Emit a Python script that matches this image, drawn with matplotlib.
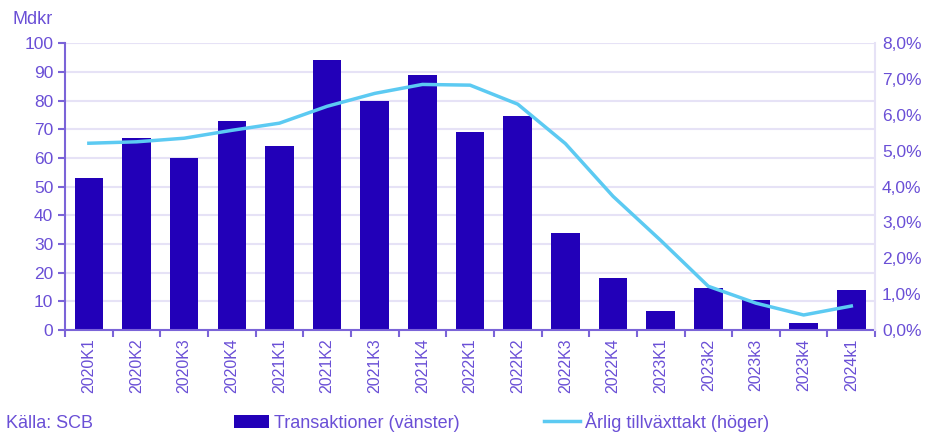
import matplotlib
matplotlib.use("Agg")
import matplotlib.pyplot as plt
from matplotlib.ticker import FuncFormatter, MultipleLocator
import numpy as np

categories = ["2020K1", "2020K2", "2020K3", "2020K4", "2021K1", "2021K2", "2021K3", "2021K4",
              "2022K1", "2022K2", "2022K3", "2022K4", "2023K1", "2023k2", "2023k3", "2023k4", "2024k1"]
transaktioner = [53, 67, 60, 73, 64, 94, 80, 89, 69, 74.5, 34, 18, 6.5, 14.5, 10.5, 2.5, 14]
tillvaxt = [5.21, 5.25, 5.35, 5.57, 5.77, 6.24, 6.6, 6.85, 6.83, 6.3, 5.2, 3.73, 2.5, 1.22, 0.75, 0.42, 0.67]

bar_color = "#2200B8"
line_color = "#5CCAF2"
text_color = "#6A4FD6"
grid_color = "#E6E2F6"
axis_color = "#7B64D8"

plt.rcParams['font.family'] = ['Liberation Sans', 'DejaVu Sans']

fig = plt.figure(figsize=(9.29, 4.32), dpi=100)
ax = fig.add_axes([0.070, 0.236, 0.872, 0.664])
x = np.arange(len(categories))
ax.bar(x, transaktioner, width=0.6, color=bar_color, zorder=2, label="Transaktioner (vänster)")
ax.set_xlim(-0.5, len(categories) - 0.5)
ax.set_ylim(0, 100)
ax.yaxis.set_major_locator(MultipleLocator(10))
ax.grid(axis='y', color=grid_color, linewidth=1.5, zorder=0)
ax.set_axisbelow(True)
ax.set_xticks(x)
ax.set_xticklabels(categories, rotation=90, fontsize=11.5, color=text_color)
ax.tick_params(axis='x', length=0, pad=6)
ax.set_xticks(np.arange(-0.5, len(categories) + 0.5, 1), minor=True)
ax.tick_params(axis='x', which='minor', length=5, width=1.5, color=axis_color)
ax.tick_params(axis='y', labelsize=12.5, labelcolor=text_color, length=5, width=1.5, color=axis_color)
for s in ['top', 'right']:
    ax.spines[s].set_visible(False)
ax.spines['left'].set_color(axis_color)
ax.spines['bottom'].set_color(axis_color)
ax.spines['left'].set_linewidth(1.5)
ax.spines['bottom'].set_linewidth(1.5)

ax2 = ax.twinx()
ax2.plot(x, tillvaxt, color=line_color, linewidth=2.5, zorder=3, label="Årlig tillväxttakt (höger)")
ax2.set_ylim(0, 8)
ax2.yaxis.set_major_locator(MultipleLocator(1))
ax2.yaxis.set_major_formatter(FuncFormatter(lambda v, p: f"{v:.1f}%".replace('.', ',')))
ax2.tick_params(axis='y', labelsize=12.5, labelcolor=text_color, length=0, pad=5)
for s in ['top', 'left', 'bottom']:
    ax2.spines[s].set_visible(False)
ax2.spines['right'].set_color(grid_color)
ax2.spines['right'].set_linewidth(1.5)

fig.text(0.013, 0.935, "Mdkr", fontsize=13, color=text_color, ha='left', va='bottom')
fig.text(0.006, 0.0, "Källa: SCB", fontsize=13, color=text_color, ha='left', va='bottom')

h1, l1 = ax.get_legend_handles_labels()
h2, l2 = ax2.get_legend_handles_labels()
fig.legend(h1 + h2, l1 + l2, loc='lower left', bbox_to_anchor=(0.234, -0.037), ncol=2,
           frameon=False, fontsize=13, labelcolor=text_color, handlelength=1.95,
           handletextpad=0.28, columnspacing=4.7)

fig.savefig("out.png", dpi=100)
